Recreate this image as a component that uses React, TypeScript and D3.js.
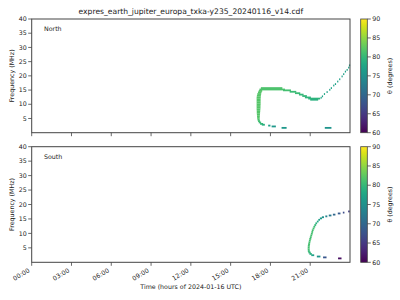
import React from 'react';
import * as d3 from 'd3';

const title = 'expres_earth_jupiter_europa_txka-y235_20240116_v14.cdf';
const xLabel = 'Time (hours of 2024-01-16 UTC)';
const yLabel = 'Frequency (MHz)';
const cbLabel = 'θ (degrees)';
const timeTicks = [0, 3, 6, 9, 12, 15, 18, 21];
const timeTickLabels = ['00:00', '03:00', '06:00', '09:00', '12:00', '15:00', '18:00', '21:00'];
const freqTicks = [5, 10, 15, 20, 25, 30, 35, 40];
const thetaTicks = [60, 65, 70, 75, 80, 85, 90];

// cells: [start hour, end hour, frequency MHz, theta deg]
const northLoop = [
  [17.28, 18.9, 15.7, 81.5],
  [17.17, 19.1, 15.2, 81.5],
  [17.12, 17.38, 14.7, 82],
  [17.06, 17.33, 14.2, 82],
  [17.01, 17.3, 13.6, 82],
  [16.98, 17.28, 13.0, 82],
  [16.96, 17.27, 12.4, 82],
  [16.96, 17.26, 11.8, 82],
  [16.96, 17.26, 11.2, 82],
  [16.96, 17.26, 10.6, 82],
  [16.96, 17.26, 10.0, 82],
  [16.96, 17.25, 9.4, 82],
  [16.96, 17.25, 8.8, 82],
  [16.96, 17.24, 8.2, 82],
  [16.97, 17.23, 7.6, 82],
  [16.97, 17.22, 7.0, 82],
  [16.98, 17.21, 6.4, 82],
  [16.99, 17.2, 5.8, 82],
  [17.0, 17.19, 5.2, 82],
  [17.02, 17.19, 4.6, 81.5],
  [17.06, 17.22, 4.1, 81],
  [17.12, 17.3, 3.6, 80.5],
  [17.22, 17.45, 3.1, 80],
  [17.35, 17.58, 2.8, 79],
];
const northDip = [
  [18.95, 19.55, 14.9, 81],
  [19.45, 19.95, 14.4, 80.5],
  [19.85, 20.25, 13.9, 80.5],
  [20.15, 20.5, 13.4, 80],
  [20.4, 20.75, 12.9, 80],
  [20.6, 21.05, 12.4, 79.5],
  [20.85, 21.75, 12.0, 79.5],
  [21.0, 21.6, 11.6, 79],
];
const northRise = [
  [21.78, 21.86, 12.3, 77.5],
  [21.88, 21.96, 12.8, 77.5],
  [22.03, 22.11, 13.6, 77.5],
  [22.23, 22.31, 14.3, 77],
  [22.43, 22.51, 15.1, 77],
  [22.55, 22.63, 15.7, 77],
  [22.73, 22.81, 16.6, 77],
  [22.86, 22.94, 17.1, 77],
  [23.03, 23.11, 18.0, 77],
  [23.18, 23.26, 18.8, 77],
  [23.36, 23.44, 19.8, 77],
  [23.48, 23.56, 20.6, 77],
  [23.61, 23.69, 21.5, 77],
  [23.74, 23.82, 22.1, 77],
  [23.86, 23.94, 22.9, 77],
  [23.92, 24.0, 23.7, 77],
];
const northFloor = [
  [17.83, 18.0, 2.5, 77],
  [18.09, 18.41, 2.2, 76],
  [18.84, 19.22, 1.7, 76],
  [22.1, 22.6, 1.7, 75.5],
];
const southUpper = [
  [23.86, 23.98, 17.6, 65.5],
  [23.46, 23.58, 17.2, 67],
  [23.08, 23.28, 16.9, 68.5],
  [22.71, 22.9, 16.5, 70],
  [22.4, 22.6, 16.2, 72],
  [22.14, 22.29, 15.9, 73.5],
  [21.88, 22.04, 15.6, 75],
  [21.73, 21.89, 15.2, 76],
  [21.61, 21.74, 14.7, 77],
  [21.5, 21.63, 14.1, 78],
];
const southArc = [
  [21.39, 21.52, 13.5, 79],
  [21.31, 21.45, 12.9, 80],
  [21.24, 21.38, 12.3, 80.5],
  [21.18, 21.32, 11.7, 81],
  [21.12, 21.26, 11.1, 81],
  [21.09, 21.22, 10.5, 81],
  [21.05, 21.19, 9.9, 81],
  [21.01, 21.15, 9.3, 81],
  [20.97, 21.11, 8.7, 81],
  [20.93, 21.08, 8.1, 81],
  [20.9, 21.04, 7.5, 81],
  [20.87, 21.01, 6.9, 81],
  [20.84, 20.99, 6.3, 81],
  [20.82, 20.97, 5.7, 81],
  [20.81, 20.96, 5.1, 81],
  [20.81, 20.96, 4.5, 81],
  [20.82, 20.97, 3.9, 80.5],
  [20.86, 21.04, 3.4, 80],
  [20.94, 21.12, 2.9, 79],
];
const southFloor = [
  [21.08, 21.3, 2.45, 77],
  [21.5, 21.77, 2.0, 75.5],
  [21.97, 22.23, 1.7, 68],
  [23.1, 23.36, 1.35, 61],
];

const northCells = [...northLoop, ...northDip, ...northRise, ...northFloor];
const southCells = [...southUpper, ...southArc, ...southFloor];

const FONT = 'DejaVu Sans';
const FS = 6.3;
const INK = '#222';
const FRAME = '#444';
const X0 = 31.7;
const X1 = 350;
const CB0 = 360.7;
const CB1 = 367.3;
const CELL_H = 1.8;

const panels = [
  { name: 'North', top: 19, bottom: 132.7, cells: northCells, showLabels: false },
  { name: 'South', top: 146.7, bottom: 262.3, cells: southCells, showLabels: true },
];

export default function App() {
  const x = d3.scaleLinear().domain([0, 24]).range([X0, X1]);
  const color = d3.scaleSequential(d3.interpolateViridis).domain([60, 90]);
  const stops = d3.range(0, 1.0001, 0.05);

  return (
    <svg width={400} height={300} style={{ position: 'absolute', left: 0, top: 0, background: '#fff' }}
      fontFamily={FONT}>
      <defs>
        <linearGradient id="viridis" x1="0" y1="1" x2="0" y2="0">
          {stops.map((s) => (
            <stop key={s} offset={s} stopColor={d3.interpolateViridis(s)} />
          ))}
        </linearGradient>
      </defs>
      <rect width={400} height={300} fill="#fff" />
      <text x={(X0 + X1) / 2} y={13.5} fontSize={7.6} textAnchor="middle" fill={INK}>{title}</text>
      {panels.map((p) => {
        const y = d3.scaleLinear().domain([0, 40]).range([p.bottom, p.top]);
        const cy = d3.scaleLinear().domain([60, 90]).range([p.bottom, p.top]);
        const mid = (p.top + p.bottom) / 2;
        return (
          <g key={p.name}>
            {p.cells.map((c, i) => {
              const x0 = x(c[0]);
              const w = Math.max(1.2, x(c[1]) - x0);
              return (
                <rect key={i} x={x0} y={y(c[2]) - CELL_H / 2} width={w} height={CELL_H} fill={color(c[3])} />
              );
            })}
            <rect x={X0} y={p.top} width={X1 - X0} height={p.bottom - p.top} fill="none" stroke={FRAME} strokeWidth={1} />
            {freqTicks.map((f) => (
              <g key={f}>
                <line x1={X0 - 3.5} x2={X0} y1={y(f)} y2={y(f)} stroke={FRAME} strokeWidth={0.8} />
                <text x={X0 - 5} y={y(f)} dy="0.35em" fontSize={FS} textAnchor="end" fill={INK}>{f}</text>
              </g>
            ))}
            {timeTicks.map((t, i) => (
              <g key={t}>
                <line x1={x(t)} x2={x(t)} y1={p.bottom} y2={p.bottom + 3.5} stroke={FRAME} strokeWidth={0.8} />
                {p.showLabels && (
                  <text transform={`translate(${x(t) - 1.5},${p.bottom + 9.5}) rotate(-30)`} fontSize={FS}
                    textAnchor="end" fill={INK}>{timeTickLabels[i]}</text>
                )}
              </g>
            ))}
            <text transform={`translate(11.5,${mid}) rotate(-90)`} fontSize={FS} textAnchor="middle" dy="0.35em"
              fill={INK}>{yLabel}</text>
            <text x={44} y={p.top + 12.3} fontSize={FS} fill={INK}>{p.name}</text>
            <rect x={CB0} y={p.top} width={CB1 - CB0} height={p.bottom - p.top} fill="url(#viridis)" stroke={FRAME}
              strokeWidth={0.8} />
            {thetaTicks.map((th) => (
              <g key={th}>
                <line x1={CB1} x2={CB1 + 3.5} y1={cy(th)} y2={cy(th)} stroke={FRAME} strokeWidth={0.8} />
                <text x={CB1 + 5} y={cy(th)} dy="0.35em" fontSize={FS} fill={INK}>{th}</text>
              </g>
            ))}
            <text transform={`translate(390,${mid}) rotate(-90)`} fontSize={FS} textAnchor="middle" dy="0.35em"
              fill={INK}>{cbLabel}</text>
          </g>
        );
      })}
      <text x={(X0 + X1) / 2} y={289} fontSize={FS} textAnchor="middle" fill={INK}>{xLabel}</text>
    </svg>
  );
}
